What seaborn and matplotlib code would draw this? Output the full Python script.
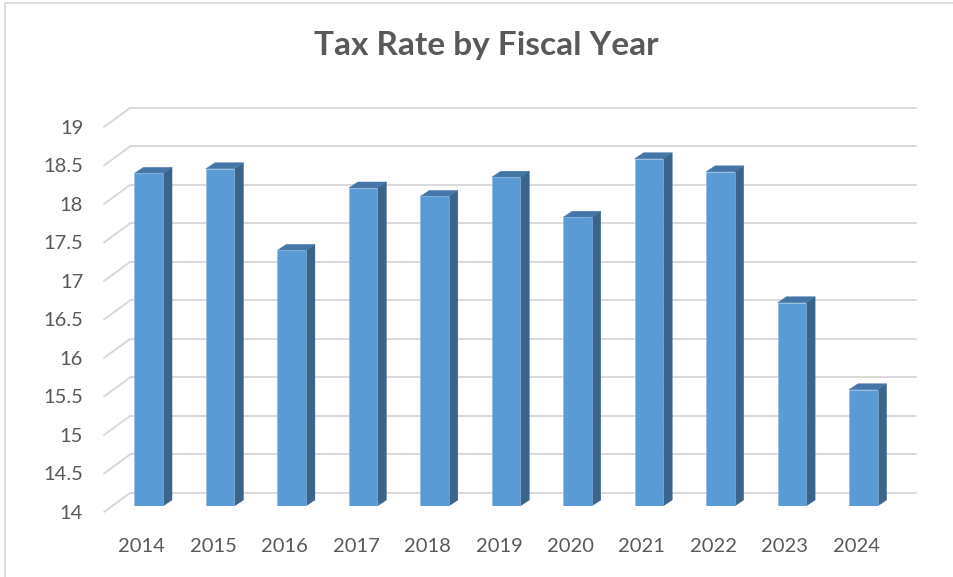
import numpy as np
import pandas as pd
import matplotlib
matplotlib.use("Agg")
import matplotlib.pyplot as plt
import matplotlib.transforms as mtransforms
from matplotlib.patches import Polygon, Rectangle
from matplotlib.lines import Line2D
import seaborn as sns

# ---------------- data ----------------
years = ["2014", "2015", "2016", "2017", "2018", "2019",
         "2020", "2021", "2022", "2023", "2024"]
tax_rate = [18.32, 18.38, 17.32, 18.13, 18.02, 18.27,
            17.75, 18.51, 18.34, 16.64, 15.51]
y_ticks = [14, 14.5, 15, 15.5, 16, 16.5, 17, 17.5, 18, 18.5, 19]
y_tick_labels = ["14", "14.5", "15", "15.5", "16", "16.5",
                 "17", "17.5", "18", "18.5", "19"]
title = "Tax Rate by Fiscal Year"

# ---------------- style ----------------
sns.set_theme(style="white")
plt.rcParams['font.family'] = ['Lato', 'DejaVu Sans']
TEXT = "#595959"
GRID = "#d9d9d9"
FRONT = "#5B9BD5"
SIDE = "#3A6489"
TOP = "#4576A8"

W, H = 954, 577
fig = plt.figure(figsize=(W / 100, H / 100), dpi=100)
fig.patch.set_facecolor("white")

left_px, right_px = 113, 899
top_px, bottom_px = 90, 506
px_per_unit = 77.0
ax = fig.add_axes([left_px / W, 1 - bottom_px / H,
                   (right_px - left_px) / W, (bottom_px - top_px) / H])
ax.set_facecolor("none")

df = pd.DataFrame({"year": years, "rate": tax_rate})
sns.barplot(data=df, x="year", y="rate", color=FRONT, saturation=1,
            width=0.4, ax=ax, zorder=3, edgecolor="#8DB8E3", linewidth=0.4)

y0 = y_ticks[0]
ax.set_xlim(-0.5, len(years) - 0.5)
ax.set_ylim(y0, y0 + (bottom_px - top_px) / px_per_unit)
ax.autoscale(False)

for s in ax.spines.values():
    s.set_visible(False)
ax.grid(False)
ax.set_xlabel("")
ax.set_ylabel("")
ax.set_yticks(y_ticks, y_tick_labels)
ax.tick_params(axis="both", length=0, labelsize=14.5, labelcolor=TEXT)
ax.tick_params(axis="x", pad=23)
ax.tick_params(axis="y", pad=21.5)

for lab in ax.get_xticklabels():
    lab.set_transform(lab.get_transform() + mtransforms.Affine2D().translate(-7, 0))
for lab in ax.get_yticklabels():
    lab.set_transform(lab.get_transform() + mtransforms.Affine2D().translate(0, -6))

ident = mtransforms.IdentityTransform()


def disp(x, y, dx=0.0, dy=0.0):
    X, Y = ax.transData.transform((x, y))
    return (X + dx, Y + dy)


BACK = (17, 13)
FRONTW = (-9, -6)
DEPTH = (9, 6)

xl, xr = ax.get_xlim()
# back wall gridlines and left wall diagonals
for v in y_ticks:
    a = disp(xl, v, *BACK)
    b = disp(xr, v, *BACK)
    ax.add_artist(Line2D([a[0], b[0]], [a[1], b[1]], transform=ident,
                         color=GRID, lw=1.4, zorder=1, clip_on=False))
    c = disp(xl, v, *FRONTW)
    ax.add_artist(Line2D([c[0], a[0]], [c[1], a[1]], transform=ident,
                         color=GRID, lw=1.4, zorder=1, clip_on=False))

# 3D sides and tops for each bar
for p in ax.patches[:len(years)]:
    h = p.get_height()
    p.set_y(y0)
    p.set_height(h - y0)
    x0 = p.get_x()
    w = p.get_width()
    top = h
    side = [disp(x0 + w, y0), disp(x0 + w, top),
            disp(x0 + w, top, *DEPTH), disp(x0 + w, y0, *DEPTH)]
    topf = [disp(x0, top), disp(x0 + w, top),
            disp(x0 + w, top, *DEPTH), disp(x0, top, *DEPTH)]
    ax.add_artist(Polygon(side, closed=True, transform=ident, facecolor=SIDE,
                          edgecolor=SIDE, lw=0.3, zorder=2.9, clip_on=False))
    ax.add_artist(Polygon(topf, closed=True, transform=ident, facecolor=TOP,
                          edgecolor=TOP, lw=0.3, zorder=2.9, clip_on=False))

# title
fig.text(486 / W, 1 - 46 / H, title, ha="center", va="center",
         fontsize=24, fontweight="bold", color=TEXT)

# chart border (left and top visible)
fig.add_artist(Rectangle((5.5 / W, -0.5), 2, 1.5 - 2.5 / H, transform=fig.transFigure,
                         fill=False, edgecolor=GRID, lw=1.2))

fig.savefig("out.png", dpi=100, facecolor="white")
